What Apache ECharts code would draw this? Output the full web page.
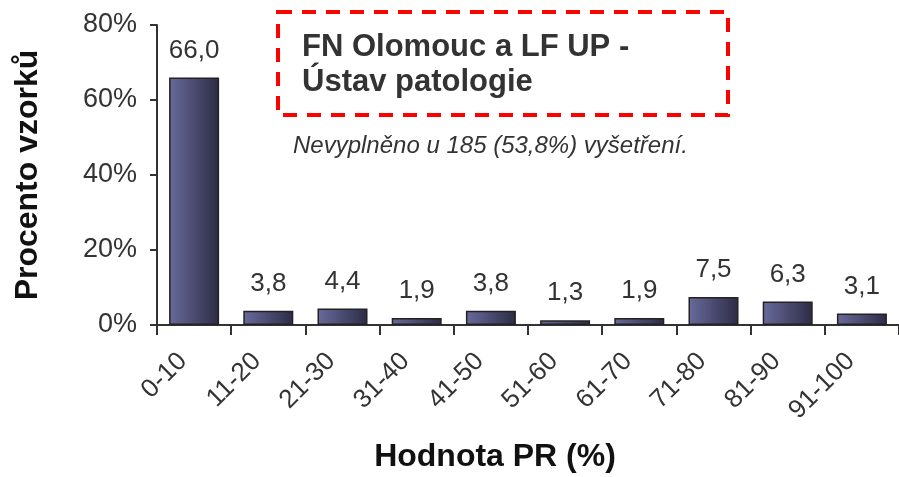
<!DOCTYPE html>
<html>
<head>
<meta charset="utf-8">
<script src="https://cdn.jsdelivr.net/npm/echarts@6/dist/echarts.min.js"></script>
<style>
html, body { margin: 0; padding: 0; background: #fff; }
#chart { width: 899px; height: 477px; }
</style>
</head>
<body>
<div id="chart"></div>
<script>
// kategorie a hodnoty (% vzorku)
var categories = ['0-10', '11-20', '21-30', '31-40', '41-50', '51-60', '61-70', '71-80', '81-90', '91-100'];
var values = [66.0, 3.8, 4.4, 1.9, 3.8, 1.3, 1.9, 7.5, 6.3, 3.1];
var yTicks = [0, 20, 40, 60, 80];

var chart = echarts.init(document.getElementById('chart'));
var fontFam = 'Liberation Sans, Arial, sans-serif';

var option = {
    animation: false,
    grid: { left: 157, right: 0, top: 25, bottom: 152, containLabel: false, outerBoundsMode: 'none' },
    title: [
        {
            text: 'FN Olomouc a LF UP -\nÚstav patologie',
            left: 297, top: 25,
            textStyle: { fontFamily: fontFam, fontSize: 31, fontWeight: 'bold', color: '#333', lineHeight: 35 }
        },
        {
            text: 'Nevyplněno u 185 (53,8%) vyšetření.',
            left: 288, top: 129,
            textStyle: { fontFamily: fontFam, fontSize: 24, fontWeight: 'normal', fontStyle: 'italic', color: '#333' }
        }
    ],
    graphic: [
        {
            type: 'rect',
            shape: { x: 278, y: 12, width: 450, height: 103 },
            style: { fill: 'none', stroke: '#ff0000', lineWidth: 4, lineDash: [14, 10] }
        }
    ],
    xAxis: {
        type: 'category',
        data: categories,
        name: 'Hodnota PR (%)',
        nameLocation: 'middle',
        nameGap: 116,
        nameTextStyle: { fontFamily: fontFam, fontSize: 32, fontWeight: 'bold', color: '#111', padding: [0, 66, 0, 0] },
        axisLine: { lineStyle: { color: '#333', width: 2 } },
        axisTick: { show: true, alignWithLabel: false, length: 10, lineStyle: { color: '#333', width: 2 } },
        axisLabel: { rotate: 45, margin: 21, padding: [0, 16, 0, 0], fontFamily: fontFam, fontSize: 26, color: '#333', interval: 0 }
    },
    yAxis: {
        type: 'value',
        min: yTicks[0],
        max: yTicks[yTicks.length - 1],
        interval: 20,
        name: 'Procento vzorků',
        nameLocation: 'middle',
        nameGap: 113,
        nameTextStyle: { fontFamily: fontFam, fontSize: 32, fontWeight: 'bold', color: '#111' },
        splitLine: { show: false },
        axisLine: { show: true, lineStyle: { color: '#333', width: 2 } },
        axisTick: { show: true, length: 7, lineStyle: { color: '#333', width: 2 } },
        axisLabel: { formatter: '{value}%', margin: 20, fontFamily: fontFam, fontSize: 27, color: '#333' }
    },
    series: [
        {
            type: 'bar',
            data: values,
            barWidth: 50,
            itemStyle: {
                color: new echarts.graphic.LinearGradient(0, 0, 1, 0, [
                    { offset: 0, color: '#6a6a9c' },
                    { offset: 1, color: '#2c2c46' }
                ]),
                borderColor: '#222',
                borderWidth: 1.5
            },
            label: {
                show: true,
                position: 'top',
                distance: 14,
                fontFamily: fontFam,
                fontSize: 26,
                color: '#333',
                formatter: function (p) { return p.value.toFixed(1).replace('.', ','); }
            }
        }
    ]
};

chart.setOption(option);
</script>
</body>
</html>
